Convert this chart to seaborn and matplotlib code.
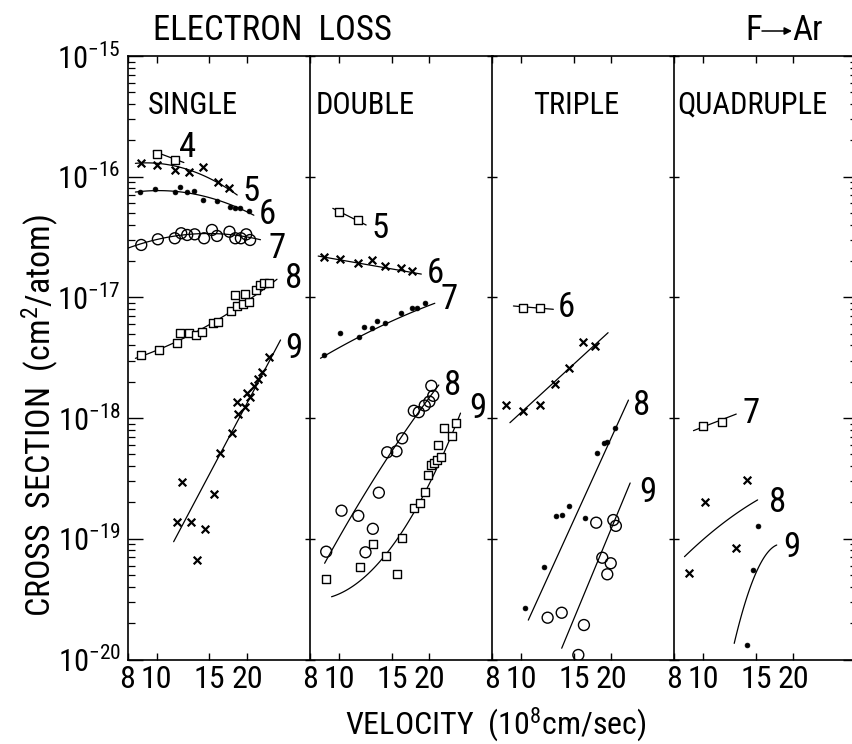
import numpy as np
import matplotlib
matplotlib.use("Agg")
import matplotlib.pyplot as plt
import seaborn as sns
from matplotlib import font_manager
from matplotlib.ticker import FixedLocator, FixedFormatter, LogLocator, NullFormatter, NullLocator

# ---------------- data: velocity (1e8 cm/s) and cross section (cm^2/atom) ----------------
# SINGLE electron loss, incident charge states 4..9
single_q4_v = [10.05, 11.5]
single_q4_s = [1.53e-16, 1.37e-16]
single_q4_fit_v = [9.75, 12.33]
single_q4_fit_s = [1.63e-16, 1.31e-16]

single_q5_v = [8.89, 10.05, 11.5, 12.81, 14.31, 16.05, 17.5]
single_q5_s = [1.29e-16, 1.25e-16, 1.14e-16, 1.10e-16, 1.21e-16, 9.09e-17, 8.01e-17]
single_q5_fit_v = [8.5, 12.8, 18.57]
single_q5_fit_s = [1.29e-16, 1.14e-16, 7.05e-17]

single_q6_v = [8.79, 9.86, 11.5, 12.0, 12.65, 13.3, 14.26, 15.9, 17.6, 18.3, 19.0, 20.3]
single_q6_s = [7.51e-17, 7.87e-17, 7.43e-17, 8.26e-17, 7.51e-17, 7.66e-17, 6.41e-17,
               6.29e-17, 5.58e-17, 5.50e-17, 5.50e-17, 5.20e-17]
single_q6_fit_v = [8.5, 10.57, 14.4, 21.1]
single_q6_fit_s = [7.37e-17, 7.87e-17, 6.75e-17, 4.82e-17]

single_q7_v = [8.89, 10.1, 11.5, 12.08, 12.65, 13.4, 14.4, 15.3, 15.9, 17.5, 18.3, 19.1, 19.9, 20.5]
single_q7_s = [2.72e-17, 3.03e-17, 3.09e-17, 3.40e-17, 3.29e-17, 3.33e-17, 3.09e-17,
               3.62e-17, 3.23e-17, 3.50e-17, 3.09e-17, 3.09e-17, 3.33e-17, 2.99e-17]
single_q7_fit_v = [8.0, 10.1, 16.3, 22.2]
single_q7_fit_s = [2.57e-17, 2.99e-17, 3.40e-17, 2.99e-17]

single_q8_v = [8.89, 10.18, 11.66, 12.0, 12.81, 13.49, 14.19, 15.44, 16.05, 17.73, 18.57,
               19.38, 20.3, 18.3, 19.64, 21.4, 22.2, 22.8, 23.7]
single_q8_s = [3.33e-18, 3.67e-18, 4.21e-18, 5.04e-18, 5.04e-18, 4.88e-18, 5.20e-18, 6.10e-18,
               6.29e-18, 7.71e-18, 8.49e-18, 8.82e-18, 9.21e-18, 1.047e-17, 1.061e-17,
               1.151e-17, 1.266e-17, 1.308e-17, 1.323e-17]
single_q8_fit_v = [8.5, 12.0, 17.6, 25.2]
single_q8_fit_s = [3.13e-18, 4.44e-18, 7.57e-18, 1.413e-17]

single_q9_v = [12.18, 11.72, 13.05, 13.6, 14.48, 15.52, 16.25, 17.78, 18.65, 18.57, 19.64,
               20.05, 20.5, 21.1, 21.75, 22.5, 23.7]
single_q9_s = [2.97e-19, 1.39e-19, 1.37e-19, 6.67e-20, 1.20e-19, 2.34e-19, 5.17e-19, 7.48e-19,
               1.08e-18, 1.37e-18, 1.24e-18, 1.61e-18, 1.50e-18, 1.85e-18, 2.10e-18,
               2.42e-18, 3.19e-18]
single_q9_fit_v = [11.4, 25.9]
single_q9_fit_s = [9.46e-20, 4.44e-18]

# DOUBLE electron loss
double_q5_v = [9.98, 11.54]
double_q5_s = [5.13e-17, 4.38e-17]
double_q5_fit_v = [9.53, 12.31]
double_q5_fit_s = [5.47e-17, 3.98e-17]

double_q6_v = [8.9, 10.06, 11.54, 12.9, 14.28, 16.14, 17.53]
double_q6_s = [2.17e-17, 2.08e-17, 1.92e-17, 2.04e-17, 1.82e-17, 1.76e-17, 1.66e-17]
double_q6_fit_v = [8.52, 18.8]
double_q6_fit_s = [2.20e-17, 1.56e-17]

double_q7_v = [8.9, 10.1, 11.64, 12.09, 12.9, 13.4, 14.28, 16.11, 17.53, 18.2, 19.3]
double_q7_s = [3.33e-18, 5.04e-18, 4.73e-18, 5.72e-18, 5.61e-18, 6.41e-18, 6.10e-18,
               7.38e-18, 8.22e-18, 8.22e-18, 9.04e-18]
double_q7_fit_v = [8.67, 14.28, 20.85]
double_q7_fit_s = [3.13e-18, 6.02e-18, 8.94e-18]

double_q8_v = [9.06, 10.19, 11.59, 12.96, 13.57, 14.47, 15.54, 16.23, 17.75, 18.44, 19.3,
               20.0, 20.6, 20.3, 12.25]
double_q8_s = [7.82e-20, 1.71e-19, 1.55e-19, 1.21e-19, 2.41e-19, 5.21e-19, 5.31e-19, 6.80e-19,
               1.15e-18, 1.12e-18, 1.27e-18, 1.37e-18, 1.53e-18, 1.85e-18, 7.73e-20]
double_q8_fit_v = [8.95, 14.47, 21.5]
double_q8_fit_s = [6.27e-20, 4.65e-19, 1.88e-18]

double_q9_v = [9.06, 11.7, 12.96, 14.39, 15.54, 16.23, 17.75, 18.58, 19.4, 19.8, 20.3, 20.7,
               21.2, 21.8, 21.4, 22.3, 23.8, 24.6]
double_q9_s = [4.62e-20, 5.87e-20, 9.0e-20, 7.24e-20, 5.11e-20, 1.02e-19, 1.79e-19, 1.97e-19,
               2.46e-19, 3.38e-19, 4.09e-19, 4.27e-19, 4.50e-19, 4.79e-19, 5.98e-19,
               8.23e-19, 7.11e-19, 9.05e-19]
double_q9_fit_v = [9.44, 16.23, 25.4]
double_q9_fit_s = [3.31e-20, 1.145e-19, 1.10e-18]

# TRIPLE electron loss
triple_q6_v = [10.13, 11.56]
triple_q6_s = [8.22e-18, 8.12e-18]
triple_q6_fit_v = [9.43, 12.81]
triple_q6_fit_s = [8.49e-18, 7.97e-18]

triple_q7_v = [8.91, 10.13, 11.56, 12.98, 14.48, 16.13, 17.6]
triple_q7_s = [1.28e-18, 1.15e-18, 1.28e-18, 1.92e-18, 2.59e-18, 4.30e-18, 3.98e-18]
triple_q7_fit_v = [9.18, 19.5]
triple_q7_fit_s = [9.16e-19, 5.10e-18]

triple_q8_v = [20.6, 19.3, 18.9, 17.9, 16.3, 14.4, 13.66, 13.07, 11.93, 10.3]
triple_q8_s = [8.23e-19, 6.30e-19, 6.18e-19, 5.11e-19, 1.48e-19, 1.87e-19, 1.57e-19,
               1.55e-19, 5.87e-20, 2.66e-20]
triple_q8_fit_v = [10.57, 22.8]
triple_q8_fit_s = [2.12e-20, 1.41e-18]

triple_q9_v = [17.8, 20.3, 20.7, 18.65, 19.9, 19.38, 12.26, 13.66, 16.2, 15.52]
triple_q9_s = [1.36e-19, 1.43e-19, 1.28e-19, 6.97e-20, 6.27e-20, 5.08e-20, 2.22e-20,
               2.44e-20, 1.93e-20, 1.09e-20]
triple_q9_fit_v = [13.66, 23.1]
triple_q9_fit_s = [1.24e-20, 2.90e-19]

# QUADRUPLE electron loss
quad_q7_v = [10.03, 11.59]
quad_q7_s = [8.60e-19, 9.34e-19]
quad_q7_fit_v = [9.29, 12.9]
quad_q7_fit_s = [7.87e-19, 1.08e-18]

quad_q8_v = [10.17, 14.03, 12.9, 8.95]
quad_q8_s = [2.03e-19, 3.07e-19, 8.34e-20, 5.18e-20]
quad_q8_fit_v = [8.67, 10.9, 15.2]
quad_q8_fit_s = [7.11e-20, 1.18e-19, 2.10e-19]

quad_q9_v = [15.2, 14.65, 13.98]
quad_q9_s = [1.28e-19, 5.51e-20, 1.32e-20]
quad_q9_fit_v = [12.7, 13.9, 17.6]
quad_q9_fit_s = [1.36e-20, 3.11e-20, 8.88e-20]

panel_titles = ["SINGLE", "DOUBLE", "TRIPLE", "QUADRUPLE"]
x_tick_values = [8, 10, 15, 20]
x_tick_labels = ["8", "10", "15", "20"]
y_tick_values = [1e-20, 1e-19, 1e-18, 1e-17, 1e-16, 1e-15]
y_tick_labels = [r"$\mathregular{10^{-20}}$", r"$\mathregular{10^{-19}}$",
                 r"$\mathregular{10^{-18}}$", r"$\mathregular{10^{-17}}$",
                 r"$\mathregular{10^{-16}}$", r"$\mathregular{10^{-15}}$"]

# ---------------- style ----------------
sns.set_theme(style="ticks")

# prefer a narrow lettering face when one is available
_faces = font_manager.fontManager.ttflist
_names = {f.name for f in _faces}
FONT, STRETCH = "DejaVu Sans", "normal"
for cand in ["Roboto Condensed", "Liberation Sans Narrow", "Open Sans Condensed",
             "Noto Sans Condensed", "DejaVu Sans Condensed", "Arial Narrow"]:
    if cand in _names:
        FONT = cand
        break
else:
    for f in _faces:
        if f.stretch in ("condensed", "semi-condensed", "extra-condensed") and not f.style == "italic":
            FONT, STRETCH = f.name, f.stretch
            break
NARROW = FONT != "DejaVu Sans"
SCALE = 1.0 if NARROW else 0.82

plt.rcParams["font.family"] = [FONT, "DejaVu Sans"]
plt.rcParams["font.stretch"] = STRETCH
plt.rcParams["mathtext.fontset"] = "custom"
plt.rcParams["mathtext.rm"] = FONT
plt.rcParams["mathtext.it"] = FONT
plt.rcParams["axes.linewidth"] = 1.2
plt.rcParams["axes.edgecolor"] = "black"
plt.rcParams["text.color"] = "black"
plt.rcParams["xtick.color"] = "black"
plt.rcParams["ytick.color"] = "black"

MARKERS = {
    "square": dict(marker="s", s=40, facecolor="white", edgecolor="black", linewidth=1.0),
    "cross": dict(marker="x", s=30, color="black", linewidth=1.6),
    "dot": dict(marker="o", s=12, facecolor="black", edgecolor="black", linewidth=0.5),
    "circle": dict(marker="o", s=62, facecolor="none", edgecolor="black", linewidth=1.0),
}

# (points v, points s, fit v, fit s, marker, label text, label v, label s)
panels = [
    [
        (single_q4_v, single_q4_s, single_q4_fit_v, single_q4_fit_s, "square", "4", 12.65, 1.73e-16),
        (single_q5_v, single_q5_s, single_q5_fit_v, single_q5_fit_s, "cross", "5", 20.6, 7.51e-17),
        (single_q6_v, single_q6_s, single_q6_fit_v, single_q6_fit_s, "dot", "6", 23.4, 4.82e-17),
        (single_q7_v, single_q7_s, single_q7_fit_v, single_q7_fit_s, "circle", "7", 25.2, 2.55e-17),
        (single_q8_v, single_q8_s, single_q8_fit_v, single_q8_fit_s, "square", "8", 28.7, 1.44e-17),
        (single_q9_v, single_q9_s, single_q9_fit_v, single_q9_fit_s, "cross", "9", 28.7, 3.79e-18),
    ],
    [
        (double_q5_v, double_q5_s, double_q5_fit_v, double_q5_fit_s, "square", "5", 13.75, 3.69e-17),
        (double_q6_v, double_q6_s, double_q6_fit_v, double_q6_fit_s, "cross", "6", 20.96, 1.58e-17),
        (double_q7_v, double_q7_s, double_q7_fit_v, double_q7_fit_s, "dot", "7", 23.2, 9.52e-18),
        (double_q8_v, double_q8_s, double_q8_fit_v, double_q8_fit_s, "circle", "8", 23.9, 1.88e-18),
        (double_q9_v, double_q9_s, double_q9_fit_v, double_q9_fit_s, "square", "9", 28.9, 1.21e-18),
    ],
    [
        (triple_q6_v, triple_q6_s, triple_q6_fit_v, triple_q6_fit_s, "square", "6", 14.19, 8.17e-18),
        (triple_q7_v, triple_q7_s, triple_q7_fit_v, triple_q7_fit_s, "cross", None, None, None),
        (triple_q8_v, triple_q8_s, triple_q8_fit_v, triple_q8_fit_s, "dot", "8", 25.3, 1.28e-18),
        (triple_q9_v, triple_q9_s, triple_q9_fit_v, triple_q9_fit_s, "circle", "9", 26.5, 2.44e-19),
    ],
    [
        (quad_q7_v, quad_q7_s, quad_q7_fit_v, quad_q7_fit_s, "square", "7", 14.47, 1.10e-18),
        (quad_q8_v, quad_q8_s, quad_q8_fit_v, quad_q8_fit_s, "cross", "8", 17.7, 1.98e-19),
        (quad_q9_v, quad_q9_s, quad_q9_fit_v, quad_q9_fit_s, "dot", "9", 19.7, 8.55e-20),
    ],
]


def smooth_fit(v, s, n=80):
    """Low-order curve through the anchor points, in log-log space."""
    lv, ls = np.log10(v), np.log10(s)
    deg = min(len(v) - 1, 2)
    coef = np.polyfit(lv, ls, deg)
    xs = np.linspace(lv.min(), lv.max(), n)
    return 10 ** xs, 10 ** np.polyval(coef, xs)


# ---------------- figure ----------------
W, H = 852, 744
fig = plt.figure(figsize=(W / 100, H / 100), dpi=100)
fig.patch.set_facecolor("white")

lefts = [127.5, 310, 492, 674]
pw = 182.5
top_px, bottom_px = 56, 659.5
XMIN, XMAX = 8, 8 * 10 ** (pw / 300)

XTICK_FS = 23 * SCALE
YTICK_FS = 22 * SCALE
NUM_FS = 25 * SCALE if NARROW else 20
HEAD_FS = 22 * SCALE
TITLE_FS = 25 * SCALE
XLABEL_FS = 23 * SCALE
YLABEL_FS = 24.5 * SCALE

axes = []
for i, left in enumerate(lefts):
    ax = fig.add_axes([left / W, (H - bottom_px) / H, pw / W, (bottom_px - top_px) / H])
    ax.set_facecolor("white")
    ax.set_xscale("log")
    ax.set_yscale("log")
    ax.set_xlim(XMIN, XMAX)
    ax.set_ylim(1e-20, 1e-15)

    for v, s, fv, fs, mk, lab, lv, ls in panels[i]:
        cx, cy = smooth_fit(fv, fs)
        sns.lineplot(x=cx, y=cy, ax=ax, color="black", linewidth=0.9, sort=False,
                     estimator=None, legend=False)
        sns.scatterplot(x=v, y=s, ax=ax, legend=False, zorder=3, clip_on=True,
                        **MARKERS[mk])
        if lab is not None:
            ax.text(lv, ls, lab, fontsize=NUM_FS, ha="center", va="center")

    # x axis: 8 10 15 20 on a log scale, ticks inward at top and bottom
    ax.xaxis.set_major_locator(FixedLocator(x_tick_values))
    ax.xaxis.set_major_formatter(FixedFormatter(x_tick_labels))
    ax.xaxis.set_minor_locator(NullLocator())
    ax.tick_params(axis="x", which="major", direction="in", length=5, width=1.0,
                   top=True, bottom=True, labelsize=XTICK_FS, pad=4)

    ax.spines["right"].set_visible(i == 3)
    if i == 0:
        ax.yaxis.set_major_locator(FixedLocator(y_tick_values))
        ax.yaxis.set_major_formatter(FixedFormatter(y_tick_labels))
        ax.yaxis.set_minor_locator(LogLocator(base=10, subs=np.arange(2, 10), numticks=20))
        ax.yaxis.set_minor_formatter(NullFormatter())
        ax.tick_params(axis="y", which="major", direction="in", length=11, width=1.0,
                       left=True, right=False, labelsize=YTICK_FS, pad=5)
        ax.tick_params(axis="y", which="minor", direction="in", length=5, width=0.9,
                       left=True, right=False)
    else:
        ax.yaxis.set_major_locator(FixedLocator(y_tick_values))
        ax.yaxis.set_minor_locator(NullLocator())
        ax.tick_params(axis="y", which="major", direction="inout", length=7, width=1.0,
                       left=True, right=False, labelleft=False)
    ax.set_xlabel("")
    ax.set_ylabel("")
    axes.append(ax)

# right-hand scale of the last panel
rax = axes[3].twinx()
rax.set_yscale("log")
rax.set_ylim(1e-20, 1e-15)
rax.yaxis.set_major_locator(FixedLocator(y_tick_values))
rax.yaxis.set_minor_locator(LogLocator(base=10, subs=np.arange(2, 10), numticks=20))
rax.yaxis.set_minor_formatter(NullFormatter())
rax.tick_params(axis="y", which="major", direction="in", length=10, width=1.0, labelright=False)
rax.tick_params(axis="y", which="minor", direction="in", length=5, width=0.9)
for sp in ("left", "top", "bottom"):
    rax.spines[sp].set_visible(False)

# panel headings
panel_title_x = [148, 316, 533, 677]
for name, x in zip(panel_titles, panel_title_x):
    fig.text(x / W, 1 - 105 / H, name, fontsize=HEAD_FS, ha="left", va="center")

# headline texts
fig.text(153 / W, 1 - 31 / H, "ELECTRON  LOSS", fontsize=TITLE_FS, ha="left", va="center")
fig.text(745 / W, 1 - 31 / H, "F", fontsize=TITLE_FS, ha="left", va="center")
fig.text(792 / W, 1 - 31 / H, "Ar", fontsize=TITLE_FS, ha="left", va="center")
fig.add_artist(matplotlib.patches.FancyArrowPatch(
    (762 / W, 1 - 31 / H), (792 / W, 1 - 31 / H), transform=fig.transFigure,
    arrowstyle="-|>", mutation_scale=11, color="black", linewidth=1.1,
    shrinkA=0, shrinkB=0))

# axis titles
fig.text(496 / W, 1 - 724 / H, r"VELOCITY  ($\mathregular{10^{8}}$cm/sec)", fontsize=XLABEL_FS,
         ha="center", va="center")
fig.text(40 / W, 1 - 416 / H, r"CROSS  SECTION  (cm$\mathregular{^{2}}$/atom)", fontsize=YLABEL_FS,
         ha="center", va="center", rotation=90)

fig.savefig("out.png", dpi=100, facecolor="white")
